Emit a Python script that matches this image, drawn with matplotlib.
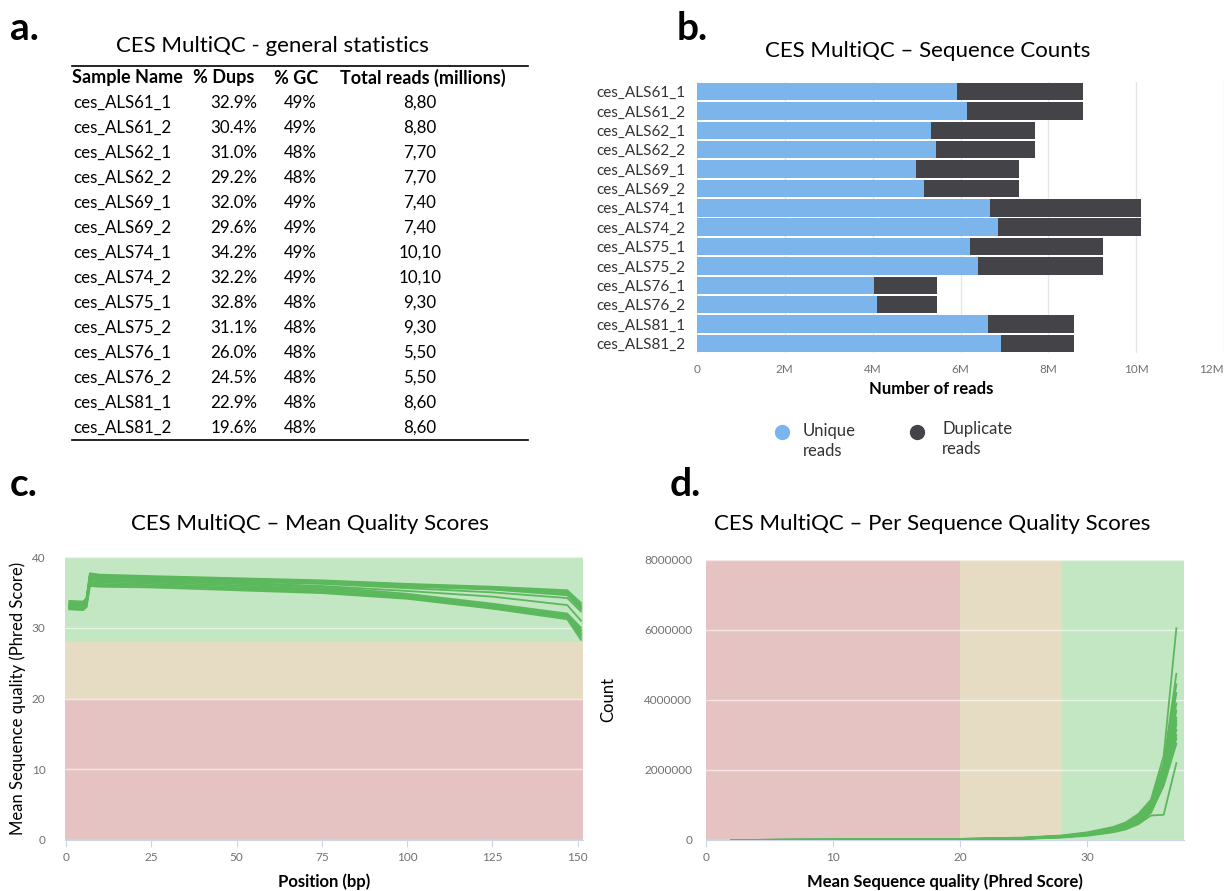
import matplotlib.pyplot as plt
import numpy as np

W, H = 1224, 891

# ---- data ----
samples = ["ces_ALS61_1", "ces_ALS61_2", "ces_ALS62_1", "ces_ALS62_2",
           "ces_ALS69_1", "ces_ALS69_2", "ces_ALS74_1", "ces_ALS74_2",
           "ces_ALS75_1", "ces_ALS75_2", "ces_ALS76_1", "ces_ALS76_2",
           "ces_ALS81_1", "ces_ALS81_2"]
dups_pct = ["32.9%", "30.4%", "31.0%", "29.2%", "32.0%", "29.6%", "34.2%",
            "32.2%", "32.8%", "31.1%", "26.0%", "24.5%", "22.9%", "19.6%"]
gc_pct = ["49%", "49%", "48%", "48%", "49%", "49%", "49%", "49%",
          "48%", "48%", "48%", "48%", "48%", "48%"]
total_reads = ["8,80", "8,80", "7,70", "7,70", "7,40", "7,40", "10,10",
               "10,10", "9,30", "9,30", "5,50", "5,50", "8,60", "8,60"]

# sequence counts (millions of reads)
unique_m = [5.92, 6.14, 5.32, 5.44, 4.98, 5.18, 6.67, 6.85, 6.22, 6.39,
            4.02, 4.11, 6.63, 6.92]
seq_total_m = [8.79, 8.79, 7.69, 7.69, 7.33, 7.33, 10.12, 10.12, 9.24, 9.24,
               5.46, 5.46, 8.59, 8.59]

# mean quality by position (one row per sample)
pos = [1, 5, 6, 7, 10, 25, 50, 75, 100, 125, 147, 151]
mean_q = [
    [33.8, 33.7, 34.2, 37.7, 37.5, 37.3, 37.0, 36.7, 36.2, 35.8, 35.3, 33.5],
    [33.5, 33.4, 34.0, 37.5, 37.4, 37.2, 36.9, 36.6, 36.1, 35.7, 35.1, 33.2],
    [33.3, 33.2, 33.8, 37.4, 37.3, 37.1, 36.8, 36.5, 36.0, 35.6, 35.0, 33.0],
    [33.1, 33.0, 33.6, 37.3, 37.2, 37.0, 36.7, 36.4, 35.9, 35.5, 34.8, 32.8],
    [32.9, 32.8, 33.4, 37.1, 37.0, 36.9, 36.6, 36.3, 35.8, 35.4, 34.6, 32.6],
    [32.7, 32.6, 33.2, 36.9, 36.8, 36.7, 36.5, 36.2, 35.6, 35.0, 34.2, 32.3],
    [33.0, 32.9, 33.5, 36.8, 36.7, 36.6, 36.3, 35.9, 35.2, 34.4, 33.2, 31.0],
    [33.6, 33.5, 34.0, 37.2, 37.0, 36.8, 36.4, 35.8, 34.8, 33.4, 32.0, 30.0],
    [33.4, 33.3, 33.8, 36.9, 36.8, 36.6, 36.2, 35.6, 34.6, 33.2, 31.8, 29.7],
    [33.2, 33.1, 33.6, 36.7, 36.6, 36.4, 36.0, 35.4, 34.5, 33.1, 31.7, 29.4],
    [33.0, 32.9, 33.4, 36.5, 36.4, 36.2, 35.8, 35.3, 34.4, 33.0, 31.6, 29.1],
    [32.8, 32.7, 33.2, 36.3, 36.2, 36.0, 35.6, 35.2, 34.3, 32.9, 31.5, 28.9],
    [32.7, 32.6, 33.0, 36.1, 36.0, 35.9, 35.5, 35.0, 34.2, 32.8, 31.4, 28.6],
    [32.6, 32.5, 32.9, 35.9, 35.8, 35.7, 35.3, 34.9, 34.1, 32.7, 31.2, 28.3],
]

# per sequence quality scores (counts in millions)
phred = [2, 10, 20, 25, 28, 30, 32, 33, 34, 35, 36, 37]
seq_q_m = [
    [0, 0.01, 0.03, 0.07, 0.13, 0.22, 0.37, 0.50, 0.74, 1.15, 2.40, 6.05],
    [0, 0.01, 0.03, 0.06, 0.12, 0.20, 0.34, 0.47, 0.70, 1.10, 2.20, 4.75],
    [0, 0.01, 0.03, 0.06, 0.12, 0.20, 0.33, 0.45, 0.68, 1.05, 2.10, 4.45],
    [0, 0.01, 0.03, 0.06, 0.11, 0.19, 0.32, 0.44, 0.66, 1.00, 2.00, 4.20],
    [0, 0.01, 0.02, 0.05, 0.11, 0.18, 0.31, 0.42, 0.63, 0.98, 1.95, 3.90],
    [0, 0.01, 0.02, 0.05, 0.10, 0.18, 0.30, 0.41, 0.61, 0.95, 1.90, 3.70],
    [0, 0.01, 0.02, 0.05, 0.10, 0.17, 0.29, 0.40, 0.59, 0.92, 1.85, 3.50],
    [0, 0.01, 0.02, 0.05, 0.10, 0.17, 0.28, 0.39, 0.57, 0.90, 1.80, 3.40],
    [0, 0.01, 0.02, 0.04, 0.09, 0.16, 0.27, 0.37, 0.55, 0.88, 1.75, 3.30],
    [0, 0.01, 0.02, 0.04, 0.09, 0.15, 0.26, 0.36, 0.53, 0.85, 1.70, 3.15],
    [0, 0.00, 0.02, 0.04, 0.08, 0.15, 0.25, 0.34, 0.51, 0.82, 1.65, 3.00],
    [0, 0.00, 0.02, 0.04, 0.08, 0.14, 0.24, 0.33, 0.49, 0.80, 1.60, 2.90],
    [0, 0.00, 0.02, 0.04, 0.08, 0.14, 0.23, 0.32, 0.48, 0.78, 1.55, 2.75],
    [0, 0.00, 0.02, 0.03, 0.07, 0.12, 0.22, 0.30, 0.45, 0.70, 0.72, 2.20],
]

BLUE = "#7cb5ec"
DARK = "#434348"
LINE = "#5cb85c"
GOOD, WARN, FAIL = "#c3e6c3", "#e6dcc3", "#e6c3c3"
TICK = "#707070"
AXLINE = "#ccd6eb"

plt.rcParams['font.family'] = ['Lato', 'DejaVu Sans']

fig = plt.figure(figsize=(W / 100, H / 100), dpi=100)


def box(l, t, r, b):
    return [l / W, 1 - b / H, (r - l) / W, (b - t) / H]


def ftext(x, y, s, **kw):
    fig.text(x / W, 1 - y / H, s, **kw)


def hc_style(ax):
    for sp in ["top", "right", "left"]:
        ax.spines[sp].set_visible(False)
    ax.spines["bottom"].set_color(AXLINE)
    ax.tick_params(axis="x", colors=AXLINE, labelcolor=TICK, labelsize=8.5, length=5)
    ax.tick_params(axis="y", length=0, labelcolor=TICK, labelsize=8.5)


# ---- panel labels ----
for lab, x, y in [("a.", 10, 28), ("b.", 677, 28), ("c.", 10, 485), ("d.", 670, 485)]:
    ftext(x, y, lab, fontsize=28, fontweight="bold", va="center")

# ---- a. table ----
ftext(272, 46, "CES MultiQC - general statistics", fontsize=16, ha="center", va="center")
fig.add_artist(plt.Line2D([72 / W, 528 / W], [1 - 66 / H, 1 - 66 / H], color="black", lw=1.2))
fig.add_artist(plt.Line2D([72 / W, 528 / W], [1 - 440 / H, 1 - 440 / H], color="black", lw=1.2))
hy = 78
hfs = 13
ftext(72, hy, "Sample Name", fontsize=hfs, fontweight="bold", va="center")
ftext(193, hy, "% Dups", fontsize=hfs, fontweight="bold", va="center")
ftext(318, hy, "% GC", fontsize=hfs, fontweight="bold", va="center", ha="right")
ftext(340, hy, "Total reads (millions)", fontsize=hfs, fontweight="bold", va="center")
for i in range(len(samples)):
    y = 103 + i * 25
    ftext(73, y, samples[i], fontsize=12.2, va="center")
    ftext(257, y, dups_pct[i], fontsize=12.2, va="center", ha="right")
    ftext(317, y, gc_pct[i], fontsize=12.2, va="center", ha="right")
    ftext(420, y, total_reads[i], fontsize=12.2, va="center", ha="center")

# ---- b. sequence counts ----
ax = fig.add_axes(box(697, 82, 1224, 353))
ypos = np.arange(len(samples))
unique = np.array(unique_m) * 1e6
dup = (np.array(seq_total_m) - np.array(unique_m)) * 1e6
ax.barh(ypos, unique, height=0.9, color=BLUE, zorder=2)
ax.barh(ypos, dup, left=unique, height=0.9, color=DARK, zorder=2)
ax.set_ylim(len(samples) - 0.5, -0.5)
ax.set_xlim(0, 12e6)
ax.set_xticks(np.arange(0, 12.1e6, 2e6))
ax.set_xticklabels(["0", "2M", "4M", "6M", "8M", "10M", "12M"])
ax.get_xticklabels()[-1].set_ha("right")
ax.set_yticks(ypos)
hc_style(ax)
ax.set_yticklabels(samples, fontsize=11, color="#333333")
ax.spines["bottom"].set_visible(False)
ax.tick_params(axis="x", length=0, pad=8)
ax.tick_params(axis="y", pad=8)
ax.grid(axis="x", color="#e6e6e6", lw=1, zorder=0)
ax.set_xlabel("Number of reads", fontsize=12, fontweight="bold")
ax.xaxis.set_label_coords((931 - 697) / (1224 - 697), (353 - 381) / (353 - 82))
ftext(928, 51, "CES MultiQC \u2013 Sequence Counts", fontsize=16, ha="center", va="center")
# legend
for mx, tx, color, label, ty in [(782, 803, BLUE, "Unique\nreads", 441),
                                 (917, 942, DARK, "Duplicate\nreads", 439)]:
    fig.add_artist(plt.Line2D([mx / W], [1 - 432 / H], marker="o", ls="",
                              color=color, markersize=10))
    ftext(tx, ty, label, fontsize=12, va="center", color="#333333", linespacing=1.25)

# ---- c. mean quality scores ----
ax = fig.add_axes(box(65, 557, 583, 840))
ax.axhspan(28, 40, color=GOOD, lw=0, zorder=0)
ax.axhspan(20, 28, color=WARN, lw=0, zorder=0)
ax.axhspan(0, 20, color=FAIL, lw=0, zorder=0)
for row in mean_q:
    ax.plot(pos, row, color=LINE, lw=1.3, zorder=3)
ax.set_xlim(-0.3, 151.6)
ax.set_ylim(0, 40)
ax.set_yticks([0, 10, 20, 30, 40])
ax.set_xticks([0, 25, 50, 75, 100, 125, 150])
ax.grid(axis="y", color="white", alpha=0.6, lw=1, zorder=1)
hc_style(ax)
ax.tick_params(axis="y", pad=14)
ax.set_ylabel("Mean Sequence quality (Phred Score)", fontsize=12, labelpad=4)
ax.set_xlabel("Position (bp)", fontsize=12, fontweight="bold", labelpad=8)
ftext(310, 524, "CES MultiQC \u2013 Mean Quality Scores", fontsize=16, ha="center", va="center")

# ---- d. per sequence quality scores ----
ax = fig.add_axes(box(706, 560, 1184, 840))
ax.axvspan(0, 20, color=FAIL, lw=0, zorder=0)
ax.axvspan(20, 28, color=WARN, lw=0, zorder=0)
ax.axvspan(28, 40, color=GOOD, lw=0, zorder=0)
for row in seq_q_m:
    ax.plot(phred, np.array(row) * 1e6, color=LINE, lw=1.3, zorder=3)
ax.set_xlim(0, 37.6)
ax.set_ylim(0, 8e6)
ax.set_yticks([0, 2e6, 4e6, 6e6, 8e6])
ax.set_yticklabels(["0", "2000000", "4000000", "6000000", "8000000"])
ax.set_xticks([0, 10, 20, 30])
ax.grid(axis="y", color="white", alpha=0.6, lw=1, zorder=1)
hc_style(ax)
ax.tick_params(axis="y", pad=10)
ax.set_ylabel("Count", fontsize=12, labelpad=20)
ax.set_xlabel("Mean Sequence quality (Phred Score)", fontsize=12, fontweight="bold", labelpad=8)
ftext(932, 524, "CES MultiQC \u2013 Per Sequence Quality Scores", fontsize=16, ha="center", va="center")

fig.savefig("out.png", dpi=100)
